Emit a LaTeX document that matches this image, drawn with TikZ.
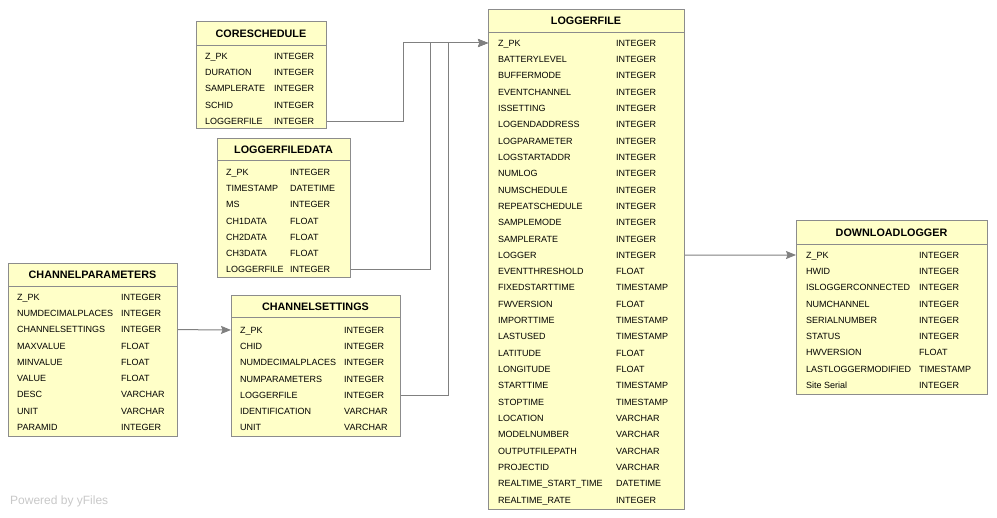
\documentclass[tikz,border=0pt]{standalone}
\usepackage{fontspec}
\setmainfont{Liberation Sans}
\usetikzlibrary{positioning,calc,arrows.meta}
\definecolor{tblfill}{HTML}{FFFFC8}
\definecolor{tbldraw}{HTML}{8C8C8C}
\definecolor{fkgray}{HTML}{808080}
\definecolor{yfgray}{HTML}{C8C8C8}
\tikzset{
  tbl/.style={rectangle,draw=tbldraw,fill=tblfill,line width=1pt,inner sep=0,anchor=north west},
  ttl/.style={font=\fontsize{10.8}{13}\selectfont\bfseries,inner sep=0},
  fld/.style={anchor=west,inner sep=0,font=\fontsize{9}{10}\selectfont,text height=6.4pt,text depth=0pt},
  rule/.style={draw=tbldraw,line width=1pt},
  % foreign keys point at the Z_PK row of the table they refer to
  fk/.style={draw=fkgray,line width=1pt,-{Stealth[length=10pt,width=8pt,inset=1.5pt]}},
  powered/.style={anchor=west,inner sep=0,text=yfgray,font=\fontsize{12}{14}\selectfont},
}
\begin{document}
\begin{tikzpicture}[x=1pt,y=-1pt]
  \useasboundingbox (0,0) rectangle (997,518);
  % CORESCHEDULE
  \node[tbl,minimum width=130pt,minimum height=107pt] (core) at (196,21) {};
  \node[ttl] (core-t) at (261,33.5) {CORESCHEDULE};
  \draw[rule] (196,46) -- (326,46);
  \foreach \n/\t [count=\i] in {Z\_PK/INTEGER,DURATION/INTEGER,SAMPLERATE/INTEGER,SCHID/INTEGER,LOGGERFILE/INTEGER}{
    \node[fld] (core-n\i) at (205,{56+16.3*(\i-1)}) {\n};
    \node[fld] (core-y\i) at (274,{56+16.3*(\i-1)}) {\t};
  }
  % LOGGERFILEDATA
  \node[tbl,minimum width=133pt,minimum height=139pt] (lfd) at (217,138) {};
  \node[ttl] (lfd-t) at (283.5,149.5) {LOGGERFILEDATA};
  \draw[rule] (217,161) -- (350,161);
  \foreach \n/\t [count=\i] in {Z\_PK/INTEGER,TIMESTAMP/DATETIME,MS/INTEGER,CH1DATA/FLOAT,CH2DATA/FLOAT,CH3DATA/FLOAT,LOGGERFILE/INTEGER}{
    \node[fld] (lfd-n\i) at (226,{172+16.3*(\i-1)}) {\n};
    \node[fld] (lfd-y\i) at (290,{172+16.3*(\i-1)}) {\t};
  }
  % CHANNELPARAMETERS
  \node[tbl,minimum width=169pt,minimum height=173pt] (cp) at (8,263) {};
  \node[ttl] (cp-t) at (92.5,275) {CHANNELPARAMETERS};
  \draw[rule] (8,287) -- (177,287);
  \foreach \n/\t [count=\i] in {Z\_PK/INTEGER,NUMDECIMALPLACES/INTEGER,CHANNELSETTINGS/INTEGER,MAXVALUE/FLOAT,MINVALUE/FLOAT,VALUE/FLOAT,DESC/VARCHAR,UNIT/VARCHAR,PARAMID/INTEGER}{
    \node[fld] (cp-n\i) at (17,{297+16.3*(\i-1)}) {\n};
    \node[fld] (cp-y\i) at (121,{297+16.3*(\i-1)}) {\t};
  }
  % CHANNELSETTINGS
  \node[tbl,minimum width=169pt,minimum height=141pt] (cs) at (231,295) {};
  \node[ttl] (cs-t) at (315.5,306.5) {CHANNELSETTINGS};
  \draw[rule] (231,318) -- (400,318);
  \foreach \n/\t [count=\i] in {Z\_PK/INTEGER,CHID/INTEGER,NUMDECIMALPLACES/INTEGER,NUMPARAMETERS/INTEGER,LOGGERFILE/INTEGER,IDENTIFICATION/VARCHAR,UNIT/VARCHAR}{
    \node[fld] (cs-n\i) at (240,{330+16.3*(\i-1)}) {\n};
    \node[fld] (cs-y\i) at (344,{330+16.3*(\i-1)}) {\t};
  }
  % LOGGERFILE
  \node[tbl,minimum width=196pt,minimum height=500pt] (lf) at (488,9) {};
  \node[ttl] (lf-t) at (586,21) {LOGGERFILE};
  \draw[rule] (488,33) -- (684,33);
  \foreach \n/\t [count=\i] in {Z\_PK/INTEGER,BATTERYLEVEL/INTEGER,BUFFERMODE/INTEGER,EVENTCHANNEL/INTEGER,ISSETTING/INTEGER,LOGENDADDRESS/INTEGER,LOGPARAMETER/INTEGER,LOGSTARTADDR/INTEGER,NUMLOG/INTEGER,NUMSCHEDULE/INTEGER,REPEATSCHEDULE/INTEGER,SAMPLEMODE/INTEGER,SAMPLERATE/INTEGER,LOGGER/INTEGER,EVENTTHRESHOLD/FLOAT,FIXEDSTARTTIME/TIMESTAMP,FWVERSION/FLOAT,IMPORTTIME/TIMESTAMP,LASTUSED/TIMESTAMP,LATITUDE/FLOAT,LONGITUDE/FLOAT,STARTTIME/TIMESTAMP,STOPTIME/TIMESTAMP,LOCATION/VARCHAR,MODELNUMBER/VARCHAR,OUTPUTFILEPATH/VARCHAR,PROJECTID/VARCHAR,REALTIME\_START\_TIME/DATETIME,REALTIME\_RATE/INTEGER}{
    \node[fld] (lf-n\i) at (498,{43+16.32*(\i-1)}) {\n};
    \node[fld] (lf-y\i) at (616,{43+16.32*(\i-1)}) {\t};
  }
  % DOWNLOADLOGGER
  \node[tbl,minimum width=191pt,minimum height=174pt] (dl) at (796,220) {};
  \node[ttl] (dl-t) at (891.5,232.5) {DOWNLOADLOGGER};
  \draw[rule] (796,245) -- (987,245);
  \foreach \n/\t [count=\i] in {Z\_PK/INTEGER,HWID/INTEGER,ISLOGGERCONNECTED/INTEGER,NUMCHANNEL/INTEGER,SERIALNUMBER/INTEGER,STATUS/INTEGER,HWVERSION/FLOAT,LASTLOGGERMODIFIED/TIMESTAMP,Site Serial/INTEGER}{
    \node[fld] (dl-n\i) at (806,{255+16.3*(\i-1)}) {\n};
    \node[fld] (dl-y\i) at (919,{255+16.3*(\i-1)}) {\t};
  }
  % references
  \draw[fk] (core.east |- core-n5) -- ++(76,0) |- (lf.west |- lf-n1);
  \draw[fk] (lfd.east |- lfd-n7) -- ++(79,0) |- (lf.west |- lf-n1);
  \draw[fk] (cs.east |- cs-n5) -- ++(47,0) |- (lf.west |- lf-n1);
  \draw[fk] (lf.east |- lf-n14) -- (dl.west |- dl-n1);
  \draw[fk] (cp.east |- cp-n3) -- (cs.west |- cs-n1);
  \node[powered] (yf) at (10,501) {Powered by yFiles};
\end{tikzpicture}
\end{document}
